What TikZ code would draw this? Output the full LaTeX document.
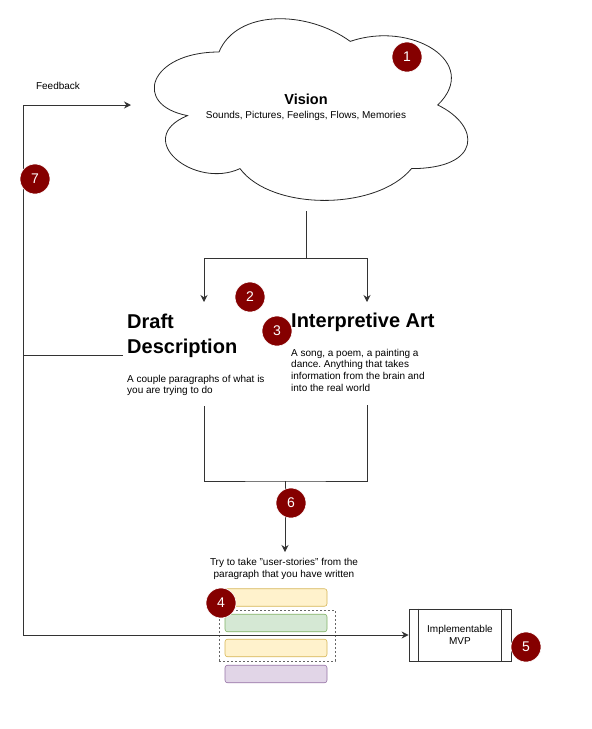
\documentclass[tikz,border=0pt]{standalone}
\usepackage{fontspec}
\setmainfont{Liberation Sans}
\usetikzlibrary{arrows.meta}
\frenchspacing
\definecolor{badgered}{HTML}{850000}
\definecolor{lineclr}{HTML}{333333}
\definecolor{ylwfill}{HTML}{FFF2CC}\definecolor{ylwdraw}{HTML}{D6B656}
\definecolor{grnfill}{HTML}{D5E8D4}\definecolor{grndraw}{HTML}{82B366}
\definecolor{prpfill}{HTML}{E1D5E7}\definecolor{prpdraw}{HTML}{9673A6}
\newcommand{\fs}[2]{\fontsize{#1}{#2}\selectfont}
\tikzset{
  conn/.style={draw=lineclr, line width=1pt},
  arr/.style={conn, -{Stealth[length=7pt,width=7pt]}},
  badge/.style={circle, fill=badgered, draw=white, line width=0.6pt, minimum size=30pt, inner sep=0pt, text=white, font=\fs{14}{16}},
  story/.style={rounded corners=2.5pt, line width=0.6pt, minimum width=102pt, minimum height=17.5pt, inner sep=0pt},
  txt/.style={inner sep=0pt, text=black},
}
\begin{document}
\begin{tikzpicture}[x=1pt,y=-1pt]
\useasboundingbox (0,0) rectangle (592,729);
% cloud
\draw[line width=0.8pt, draw=black!85] (219,52)
  .. controls (149,52) and (131.5,105) .. (187.5,115.6)
  .. controls (131.5,138.9) and (194.5,189.8) .. (240,168.6)
  .. controls (271.5,211) and (376.5,211) .. (411.5,168.6)
  .. controls (481.5,168.6) and (481.5,126.2) .. (437.75,105)
  .. controls (481.5,62.6) and (411.5,20.2) .. (350.25,41.4)
  .. controls (306.5,9.6) and (236.5,9.6) .. (219,52) -- cycle;
\node[txt, anchor=base, font=\bfseries\fs{14.5}{16}] (vision) at (306,104) {Vision};
\node[txt, anchor=base, font=\fs{10}{12}] (visionsub) at (306,118) {Sounds, Pictures, Feelings, Flows, Memories};

% coordinates
\coordinate (cloudbot) at (306,211);
\coordinate (split) at (306,258);
\coordinate (draftin) at (204,302);
\coordinate (artin) at (367,302);
\coordinate (draftout) at (204,406);
\coordinate (artout) at (367,405);
\coordinate (join) at (285,481);
\coordinate (storyin) at (285,552);
\coordinate (fbcorner) at (23,105);
\coordinate (cloudin) at (131,105);
\coordinate (fbbottom) at (23,635);
\coordinate (draftleft) at (123,355);
\coordinate (fbmid) at (23,355);

% texts (base anchor = baseline of the last line)
\node[txt, anchor=base west, font=\bfseries\fs{20}{25}, align=left] (draft) at (127,353) {Draft\\Description};
\node[txt, anchor=base west, font=\fs{10}{11.5}, align=left] (draftdesc) at (127,393.5) {A couple paragraphs of what is\\you are trying to do};
\node[txt, anchor=base west, font=\bfseries\fs{20}{25}] (art) at (291,327) {Interpretive Art};
\node[txt, anchor=base west, font=\fs{10}{11.8}, align=left] (artdesc) at (291,391.4) {A song, a poem, a painting a\\dance. Anything that takes\\information from the brain and\\into the real world};
\node[txt, anchor=base, font=\fs{10}{12}, align=center] (storytxt) at (284,577) {Try to take \symbol{34}user-stories\symbol{34} from the\\paragraph that you have written};
\node[txt, anchor=base, font=\fs{10}{12}] (fblabel) at (58,89) {Feedback};

% connectors
\draw[conn] (cloudbot) -- (split);
\draw[arr] (split) -| (draftin);
\draw[arr] (split) -| (artin);
\draw[conn] (draftout) |- (join) -| (artout);
\draw[arr] (join) -- (storyin);
\draw[conn] (draftleft) -- (fbmid);
\draw[arr] (fbbottom) -- (fbcorner) -- (cloudin);

% stories
\node[story, fill=ylwfill, draw=ylwdraw] (s1) at (276,597.5) {};
\node[story, fill=grnfill, draw=grndraw] (s2) at (276,623) {};
\node[story, fill=ylwfill, draw=ylwdraw] (s3) at (276,648) {};
\node[story, fill=prpfill, draw=prpdraw] (s4) at (276,674) {};
\node[draw=black!60, dash pattern=on 2pt off 2pt, line width=0.8pt, minimum width=116pt, minimum height=51pt, inner sep=0pt] (group) at (277,635.5) {};

% MVP
\node[draw=black!80, line width=0.8pt, minimum width=102pt, minimum height=52pt, inner sep=0pt, font=\fs{10}{12.5}, align=center] (mvp) at (460,635) {Implementable\\MVP};
\draw[black!80, line width=0.8pt] ([xshift=10pt]mvp.north west) -- ([xshift=10pt]mvp.south west);
\draw[black!80, line width=0.8pt] ([xshift=-10pt]mvp.north east) -- ([xshift=-10pt]mvp.south east);
\draw[arr] (fbbottom) -- (mvp.west);

% badges
\node[badge] (b1) at (407,57) {1};
\node[badge] (b2) at (250,297) {2};
\node[badge] (b3) at (277,331) {3};
\node[badge] (b4) at (221,603) {4};
\node[badge] (b5) at (526,647) {5};
\node[badge] (b6) at (291,503) {6};
\node[badge] (b7) at (35,179) {7};
\end{tikzpicture}
\end{document}
